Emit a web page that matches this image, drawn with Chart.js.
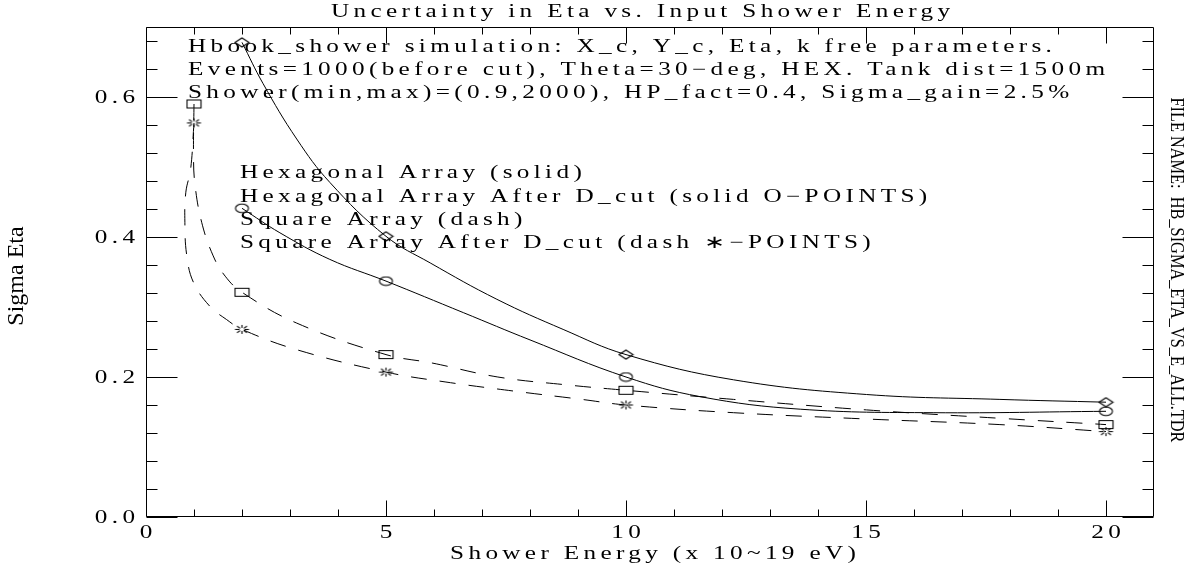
<!DOCTYPE html>
<html><head><meta charset="utf-8">
<script src="https://cdn.jsdelivr.net/npm/chart.js@4.4.1/dist/chart.umd.min.js"></script>
<style>html,body{margin:0;padding:0;background:#fff;overflow:hidden}</style>
</head><body>
<canvas id="c" width="1199" height="569"></canvas>
<script>
// ---------- data ----------
const hexEnergy = [2, 5, 10, 20];
const hexSigma = [0.678, 0.401, 0.232, 0.164];
const hexCutSigma = [0.441, 0.337, 0.200, 0.151];
const sqEnergy = [1, 2, 5, 10, 20];
const sqSigma = [0.590, 0.321, 0.232, 0.181, 0.132];
const sqCutSigma = [0.563, 0.268, 0.207, 0.160, 0.122];

// fitted curves
const hexFitE = [2, 2.44, 3.14, 3.83, 5, 5.92, 7.31, 8.69, 10, 12.24, 15.01, 17.79, 20];
const hexFitS = [0.678, 0.619, 0.540, 0.478, 0.401, 0.363, 0.311, 0.268, 0.232, 0.196, 0.175, 0.168, 0.164];
const hexCutFitE = [2, 2.79, 3.83, 5, 6.61, 8.0, 10, 11.54, 13.63, 16.4, 20];
const hexCutFitS = [0.441, 0.406, 0.368, 0.337, 0.292, 0.253, 0.200, 0.172, 0.154, 0.149, 0.151];
const sqFitE = [1.0, 0.99, 1.02, 1.16, 1.40, 1.65, 2.0, 3.14, 5, 5.96, 7.33, 8.73, 10, 12.24, 15.01, 17.79, 20];
const sqFitS = [0.590, 0.516, 0.475, 0.421, 0.373, 0.344, 0.321, 0.277, 0.232, 0.220, 0.200, 0.189, 0.181, 0.168, 0.153, 0.141, 0.132];
const sqCutFitE = [1.0, 0.93, 0.83, 0.81, 0.85, 0.99, 1.33, 1.68, 2.0, 3.14, 5, 6.23, 7.65, 9.08, 10, 12.24, 15.01, 17.79, 20];
const sqCutFitS = [0.563, 0.497, 0.464, 0.421, 0.373, 0.335, 0.301, 0.282, 0.268, 0.239, 0.207, 0.193, 0.180, 0.168, 0.160, 0.149, 0.140, 0.132, 0.122];

// ticks
const xMajorTicks = [0, 5, 10, 15, 20];
const xTickLabels = ['0', '5', '10', '15', '20'];
const xMinorTicks = [1, 2, 3, 4, 6, 7, 8, 9, 11, 12, 13, 14, 16, 17, 18, 19];
const yMajorTicks = [0, 0.2, 0.4, 0.6];
const yTickLabels = ['0.0', '0.2', '0.4', '0.6'];
const yMinorTicks = [0.04, 0.08, 0.12, 0.16, 0.24, 0.28, 0.32, 0.36, 0.44, 0.48, 0.52, 0.56, 0.64, 0.68];

// texts
const titleText = 'Uncertainty in Eta vs. Input Shower Energy';
const xTitle = 'Shower Energy (x 10~19 eV)';
const yTitle = 'Sigma Eta';
const sideText = 'FILE NAME:  HB_SIGMA_ETA_VS_E_ALL.TDR';
const headerLines = [
  'Hbook_shower simulation: X_c, Y_c, Eta, k free parameters.',
  'Events=1000(before cut), Theta=30\u2212deg, HEX. Tank dist=1500m',
  'Shower(min,max)=(0.9,2000), HP_fact=0.4, Sigma_gain=2.5%'
];
const legendLines = [
  'Hexagonal Array (solid)',
  'Hexagonal Array After D_cut (solid O\u2212POINTS)',
  'Square Array (dash)',
  'Square Array After D_cut (dash \u2217\u2212POINTS)'
];

// ---------- helpers ----------
const pts = (xs, ys) => xs.map((x, i) => ({x: x, y: ys[i]}));

function marker(kind) {
  const c = document.createElement('canvas');
  c.width = 17; c.height = 11;
  const g = c.getContext('2d');
  g.strokeStyle = '#000'; g.lineWidth = 1.1;
  const cx = 8.5, cy = 5.5;
  g.beginPath();
  if (kind === 'diamond') {
    g.moveTo(cx, 1); g.lineTo(15.5, cy); g.lineTo(cx, 10); g.lineTo(1.5, cy); g.closePath();
  } else if (kind === 'circle') {
    g.ellipse(cx, cy, 6.5, 4.3, 0, 0, Math.PI * 2);
  } else if (kind === 'square') {
    g.rect(1.5, 1.5, 14, 8);
  } else if (kind === 'star') {
    for (let k = 0; k < 8; k++) {
      const a = k * Math.PI / 4;
      const ca = Math.cos(a), sa = Math.sin(a);
      g.moveTo(cx + ca * 2.5, cy + sa * 1.6);
      g.lineTo(cx + ca * 7, cy + sa * 4.6);
    }
  }
  g.stroke();
  return c;
}

const TXT = {size: 18, sx: 1.4, ls: 3.1, family: '"Liberation Serif", "Times New Roman", serif'};

function drawText(ctx, text, o) {
  const size = o.size || TXT.size, fam = o.family || TXT.family;
  let sx = (o.sx !== undefined) ? o.sx : TXT.sx;
  let ls = (o.ls !== undefined) ? o.ls : TXT.ls;
  ctx.save();
  ctx.font = size + 'px ' + fam;
  ctx.fillStyle = '#000';
  ctx.textAlign = 'left';
  ctx.textBaseline = 'alphabetic';
  const hasLS = ('letterSpacing' in ctx);
  if (hasLS) ctx.letterSpacing = '0px';
  const w0 = ctx.measureText(text).width;
  let wantW = w0 + (text.length - 1) * ls; // unscaled width
  if (hasLS) { ctx.letterSpacing = ls + 'px'; }
  else { sx = sx * wantW / w0; wantW = w0; }
  if (o.target) { sx = o.target / (hasLS ? wantW : w0); }
  const W = (hasLS ? wantW : w0) * sx;
  let start = 0;
  if (o.align === 'center') start = -W / 2;
  else if (o.align === 'right') start = -W;
  ctx.translate(o.x, o.y);
  if (o.rotate) ctx.rotate(o.rotate);
  ctx.translate(start, 0);
  ctx.scale(sx, 1);
  ctx.fillText(text, 0, 0);
  ctx.restore();
}

const decor = {
  id: 'decor',
  afterDraw(chart) {
    const ctx = chart.ctx, a = chart.chartArea;
    const xs = chart.scales.x, ys = chart.scales.y;
    const L = Math.round(a.left) + 0.5, R = Math.round(a.right) - 0.5;
    const T = Math.round(a.top) + 0.5, B = Math.round(a.bottom) - 0.5;
    ctx.save();
    ctx.strokeStyle = '#000'; ctx.lineWidth = 1;
    ctx.beginPath();
    ctx.moveTo(L, T); ctx.lineTo(R, T); ctx.lineTo(R, B); ctx.lineTo(L, B); ctx.closePath();
    const xt = (v, len) => {
      const px = Math.round(xs.getPixelForValue(v)) + 0.5;
      ctx.moveTo(px, B); ctx.lineTo(px, B - len);
      ctx.moveTo(px, T); ctx.lineTo(px, T + len);
    };
    xMajorTicks.forEach(v => xt(v, 16));
    xMinorTicks.forEach(v => xt(v, 7));
    const yt = (v, len) => {
      const py = Math.round(ys.getPixelForValue(v)) + 0.5;
      ctx.moveTo(L, py); ctx.lineTo(L + len, py);
      ctx.moveTo(R, py); ctx.lineTo(R - len, py);
    };
    yMajorTicks.forEach(v => yt(v, 31));
    yMinorTicks.forEach(v => yt(v, 11));
    ctx.stroke();
    ctx.restore();

    xMajorTicks.forEach((v, i) => drawText(ctx, xTickLabels[i], {x: xs.getPixelForValue(v), y: 538, align: 'center'}));
    yMajorTicks.forEach((v, i) => drawText(ctx, yTickLabels[i], {x: 135, y: ys.getPixelForValue(v) + 6, align: 'right'}));

    drawText(ctx, titleText, {x: 950, y: 17, align: 'right'});
    drawText(ctx, xTitle, {x: 653, y: 559, align: 'center'});
    drawText(ctx, yTitle, {x: 23, y: 276, align: 'center', rotate: -Math.PI / 2, size: 24, sx: 1, ls: 0});
    drawText(ctx, sideText, {x: 1171, y: 270, align: 'center', rotate: Math.PI / 2, size: 18, ls: 0, target: 345});

    const hy = [52, 75, 98];
    headerLines.forEach((t, i) => drawText(ctx, t, {x: 188, y: hy[i]}));
    const ly = [178, 202, 225, 248];
    legendLines.forEach((t, i) => drawText(ctx, t, {x: 240, y: ly[i]}));
  }
};

const curve = (data, dash) => ({data: data, showLine: true, borderColor: '#000', borderWidth: 1,
  pointRadius: 0, tension: 0.4, cubicInterpolationMode: 'default', borderDash: dash || [], fill: false});
const marks = (data, kind) => ({data: data, showLine: false, pointStyle: marker(kind), pointRadius: 6,
  borderColor: '#000', backgroundColor: 'rgba(0,0,0,0)'});

new Chart(document.getElementById('c'), {
  type: 'scatter',
  data: {
    datasets: [
      marks(pts(hexEnergy, hexSigma), 'diamond'),
      marks(pts(hexEnergy, hexCutSigma), 'circle'),
      marks(pts(sqEnergy, sqSigma), 'square'),
      marks(pts(sqEnergy, sqCutSigma), 'star'),
      curve(pts(hexFitE, hexFitS)),
      curve(pts(hexCutFitE, hexCutFitS)),
      curve(pts(sqFitE, sqFitS), [16, 13]),
      curve(pts(sqCutFitE, sqCutFitS), [16, 13])
    ]
  },
  options: {
    responsive: false,
    animation: false,
    devicePixelRatio: 1,
    layout: {padding: {left: 146, right: 45, top: 27, bottom: 52}},
    scales: {
      x: {type: 'linear', min: 0, max: 21, display: false},
      y: {type: 'linear', min: 0, max: 0.7, display: false}
    },
    plugins: {legend: {display: false}, tooltip: {enabled: false}, title: {display: false}},
    events: []
  },
  plugins: [decor]
});
</script>
</body></html>
